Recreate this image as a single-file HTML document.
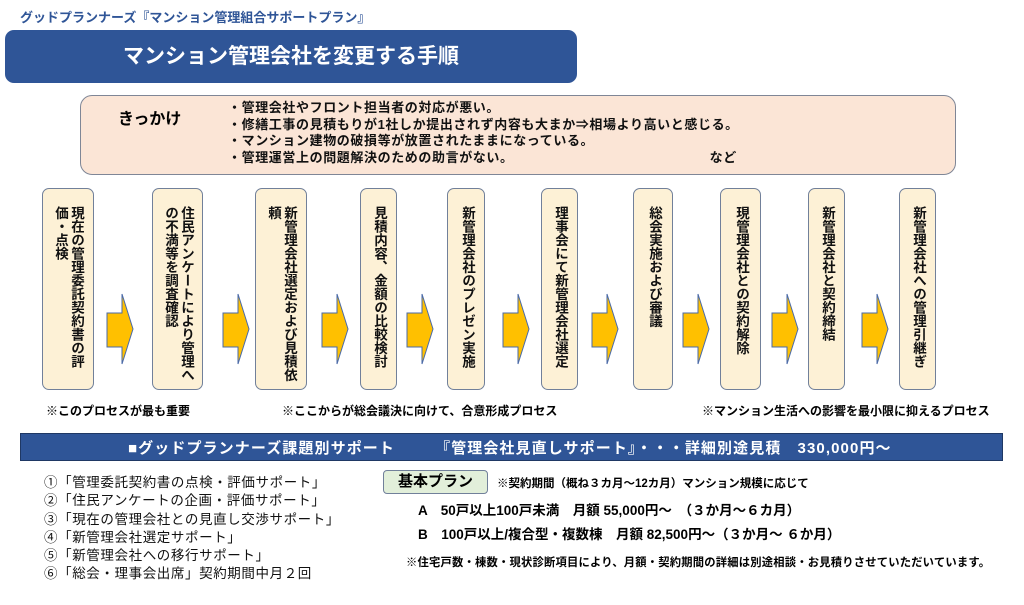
<!DOCTYPE html>
<html><head><meta charset="utf-8">
<style>
body{margin:0;width:1024px;height:605px;background:#fff;position:relative;overflow:hidden;font-family:"Liberation Sans","Noto Sans CJK JP",sans-serif;}
.a{position:absolute;white-space:nowrap;}
.box{position:absolute;top:188px;height:202px;background:#fdf1d6;border:1.5px solid #71809a;border-radius:7px;box-sizing:border-box;}
.vt{position:absolute;top:17px;writing-mode:vertical-rl;font-size:13.5px;font-weight:bold;line-height:16px;letter-spacing:0;color:#111;white-space:nowrap;}
.b{font-weight:bold;}
</style></head><body>
<div class="a" style="left:20px;top:7px;font-size:13px;color:#2f5597;font-weight:bold;">グッドプランナーズ『マンション管理組合サポートプラン』</div>
<div class="a" style="left:5px;top:30px;width:572px;height:53px;background:#2f5597;border-radius:9px;color:#fff;font-size:21px;font-weight:bold;text-align:center;line-height:53px;">マンション管理会社を変更する手順</div>

<div class="a" style="left:80px;top:95px;width:876px;height:80px;background:#fbe5d6;border:1.5px solid #7f8696;border-radius:12px;box-sizing:border-box;"></div>
<div class="a b" style="left:118px;top:105px;font-size:16px;">きっかけ</div>
<div class="a b" style="left:228px;top:100px;font-size:13px;letter-spacing:0.6px;line-height:16.5px;color:#111;">・管理会社やフロント担当者の対応が悪い。<br>・修繕工事の見積もりが1社しか提出されず内容も大まか⇒相場より高いと感じる。<br>・マンション建物の破損等が放置されたままになっている。<br>・管理運営上の問題解決のための助言がない。<span style="display:inline-block;width:196px"></span>など</div>

<div class="box" style="left:42px;width:52px"><div class="vt" style="left:9px">現在の管理委託契約書の評<br>価・点検</div></div>
<div class="box" style="left:152px;width:51px"><div class="vt" style="left:9px">住民アンケートにより管理へ<br>の不満等を調査確認</div></div>
<div class="box" style="left:255px;width:52px"><div class="vt" style="left:9px">新管理会社選定および見積依<br>頼</div></div>
<div class="box" style="left:360px;width:37px"><div class="vt" style="left:10px">見積内容、金額の比較検討</div></div>
<div class="box" style="left:447px;width:38px"><div class="vt" style="left:11px">新管理会社のプレゼン実施</div></div>
<div class="box" style="left:541px;width:37px"><div class="vt" style="left:10px">理事会にて新管理会社選定</div></div>
<div class="box" style="left:633px;width:40px"><div class="vt" style="left:12px">総会実施および審議</div></div>
<div class="box" style="left:720px;width:41px"><div class="vt" style="left:12px">現管理会社との契約解除</div></div>
<div class="box" style="left:808px;width:37px"><div class="vt" style="left:10px">新管理会社と契約締結</div></div>
<div class="box" style="left:899px;width:37px"><div class="vt" style="left:10px">新管理会社への管理引継ぎ</div></div>

<svg class="a" style="left:0;top:0" width="1024" height="605">
<defs><polygon id="ar" points="0,19 15,19 15,0 26,35 15,70 15,53 0,53" fill="#ffc000" stroke="#4a6aa8" stroke-width="1"/></defs>
<use href="#ar" x="107" y="294"/><use href="#ar" x="223" y="294"/><use href="#ar" x="322" y="294"/>
<use href="#ar" x="407" y="294"/><use href="#ar" x="503" y="294"/><use href="#ar" x="592" y="294"/>
<use href="#ar" x="683" y="294"/><use href="#ar" x="772" y="294"/><use href="#ar" x="862" y="294"/>
</svg>

<div class="a b" style="left:46px;top:402px;font-size:12px;">※このプロセスが最も重要</div>
<div class="a b" style="left:282px;top:402px;font-size:12px;">※ここからが総会議決に向けて、合意形成プロセス</div>
<div class="a b" style="left:702px;top:402px;font-size:12px;">※マンション生活への影響を最小限に抑えるプロセス</div>

<div class="a" style="left:20px;top:433px;width:983px;height:28px;background:#2f5597;border:1px solid #1f3864;box-sizing:border-box;"></div>
<div class="a b" style="left:128px;top:437px;font-size:15px;letter-spacing:1.1px;color:#fff;">■グッドプランナーズ課題別サポート<span style="display:inline-block;width:40px"></span>『管理会社見直しサポート』・・・詳細別途見積　330,000円～</div>

<div class="a" style="left:44px;top:474px;font-size:13.5px;letter-spacing:0.6px;line-height:18.3px;color:#111;">①「管理委託契約書の点検・評価サポート」<br>②「住民アンケートの企画・評価サポート」<br>③「現在の管理会社との見直し交渉サポート」<br>④「新管理会社選定サポート」<br>⑤「新管理会社への移行サポート」<br>⑥「総会・理事会出席」契約期間中月２回</div>

<div class="a b" style="left:383px;top:470px;width:105px;height:24px;background:#e2efda;border:1.5px solid #71809a;border-radius:4px;box-sizing:border-box;font-size:15px;text-align:center;line-height:21px;">基本プラン</div>
<div class="a b" style="left:497px;top:475px;font-size:11.5px;">※契約期間（概ね３カ月～12カ月）マンション規模に応じて</div>
<div class="a b" style="left:418px;top:499px;font-size:13.5px;">A　50戸以上100戸未満　月額 55,000円～　（３か月～６カ月）</div>
<div class="a b" style="left:418px;top:523px;font-size:13.5px;">B　100戸以上/複合型・複数棟　月額 82,500円～（３か月～ ６か月）</div>
<div class="a b" style="left:406px;top:554px;font-size:11.3px;letter-spacing:0.2px;">※住宅戸数・棟数・現状診断項目により、月額・契約期間の詳細は別途相談・お見積りさせていただいています。</div>
</body></html>
